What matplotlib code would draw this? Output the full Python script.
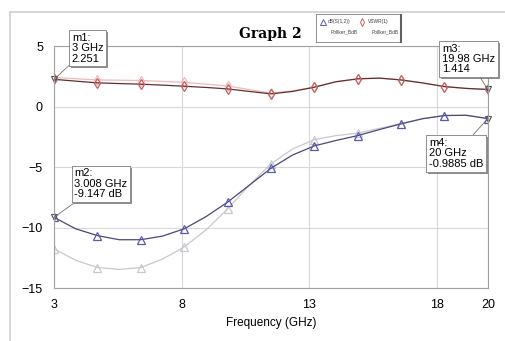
import numpy as np
import matplotlib.pyplot as plt
import matplotlib.patheffects as pe
from matplotlib.lines import Line2D

plt.rcParams['font.family'] = ['Liberation Sans', 'DejaVu Sans']

# frequency samples (GHz) - markers on every other point
freq = [3, 3.85, 4.7, 5.55, 6.4, 7.25, 8.1, 8.95, 9.8, 10.65, 11.5,
        12.35, 13.2, 14.05, 14.9, 15.75, 16.6, 17.45, 18.3, 19.15, 20]

s12_db = [-9.15, -10.1, -10.66, -11.0, -11.0, -10.7, -10.1, -9.1, -7.9, -6.5, -5.1,
          -4.0, -3.25, -2.8, -2.4, -1.9, -1.43, -1.0, -0.74, -0.72, -0.99]
s12_db_ref = [-11.76, -12.7, -13.3, -13.45, -13.3, -12.6, -11.6, -10.2, -8.46, -6.5, -4.74,
              -3.5, -2.73, -2.4, -2.2, -1.8, -1.4, -1.0, -0.74, -0.72, -0.99]

vswr = [2.25, 2.1, 1.96, 1.9, 1.85, 1.77, 1.68, 1.58, 1.46, 1.25, 1.05,
        1.25, 1.6, 2.05, 2.29, 2.35, 2.2, 1.95, 1.65, 1.5, 1.41]
vswr_ref = [2.4, 2.3, 2.2, 2.18, 2.15, 2.08, 2.0, 1.85, 1.7, 1.4, 1.1,
            1.3, 1.6, 2.05, 2.29, 2.35, 2.2, 1.95, 1.65, 1.5, 1.41]

x_ticks = [3, 8, 13, 18, 20]
y_ticks = [5, 0, -5, -10, -15]

fig = plt.figure(figsize=(5.05, 3.41), dpi=100)
ax = fig.add_axes([0.107, 0.155, 0.859, 0.71])

# outer frame of the report window
fig.add_artist(Line2D([10/505, 1], [1 - 12/341, 1 - 12/341], color='#cfcfcf', lw=1.2))
fig.add_artist(Line2D([10/505, 10/505], [0, 1 - 12/341], color='#cfcfcf', lw=1.2))

ax.plot(freq, s12_db_ref, color='#c8c8d0', lw=0.9, marker='^', markevery=2,
        mfc='none', mec='#c8c8d0', ms=5.5, mew=0.9)
ax.plot(freq, vswr_ref, color='#f0b8b8', lw=0.9, marker='d', markevery=2,
        mfc='none', mec='#f0b8b8', ms=5.5, mew=0.9)
ax.plot(freq, s12_db, color='#48487a', lw=0.9, marker='^', markevery=2,
        mfc='none', mec='#5a5ab0', ms=5.5, mew=0.9)
ax.plot(freq, vswr, color='#603030', lw=0.9, marker='d', markevery=2,
        mfc='none', mec='#c86060', ms=5.5, mew=0.9)

ax.set_xlim(3, 20)
ax.set_ylim(-15, 5)
ax.set_xticks(x_ticks)
ax.set_yticks(y_ticks)
ax.tick_params(length=0, labelsize=9, pad=8)
ax.grid(True, color='#d8d8d8', lw=0.8)
for s in ax.spines.values():
    s.set_color('#a0a0a0')
    s.set_linewidth(0.8)
ax.set_xlabel('Frequency (GHz)', fontsize=8.5, labelpad=4)

fig.text(0.535, 0.90, 'Graph 2', family='DejaVu Serif', fontweight='bold',
         fontsize=10, ha='center', va='center')

# legend box
leg = fig.add_axes([316/505, 1 - 42/341, 84/505, 28/341])
leg.set_xticks([])
leg.set_yticks([])
leg.set_xlim(0, 1)
leg.set_ylim(0, 1)
for s in leg.spines.values():
    s.set_color('#808080')
    s.set_linewidth(0.6)
leg.plot([0.08], [0.72], marker='^', mfc='none', mec='#5a5ab0', ms=4, mew=0.7)
leg.plot([0.55], [0.72], marker='d', mfc='none', mec='#c86060', ms=4, mew=0.7)
leg.text(0.14, 0.72, 'dB(S(1,2))', fontsize=3.5, va='center', color='#404040')
leg.text(0.18, 0.35, 'Pollker_BdB', fontsize=3.5, va='center', color='#404040')
leg.text(0.62, 0.72, 'VSWR(1)', fontsize=3.5, va='center', color='#404040')
leg.text(0.66, 0.35, 'Pollker_BdB', fontsize=3.5, va='center', color='#404040')
fig.add_artist(Line2D([401/505, 401/505], [1 - 42/341, 1 - 15/341], color='#606060', lw=1.5))

# markers with label boxes
markers = [
    (3, 2.251, 'm1:\n3 GHz\n2.251', (3.7, 6.1)),
    (3, -9.147, 'm2:\n3.008 GHz\n-9.147 dB', (3.8, -5.1)),
    (20, 1.414, 'm3:\n19.98 GHz\n1.414', (18.2, 5.2)),
    (20, -0.9885, 'm4:\n20 GHz\n-0.9885 dB', (17.7, -2.6)),
]
for mx, my, label, (tx, ty) in markers:
    ax.plot([mx], [my], marker='v', mfc='none', mec='#505050', ms=5, mew=0.8, clip_on=False)
    ann = ax.annotate(label, xy=(mx, my), xytext=(tx, ty), fontsize=8,
                      ha='left', va='top', linespacing=1.05, annotation_clip=False,
                      bbox=dict(boxstyle='square,pad=0.25', fc='white', ec='#909090', lw=0.7),
                      arrowprops=dict(arrowstyle='-', color='#707070', lw=0.6,
                                      shrinkA=0, shrinkB=0))
    ann.get_bbox_patch().set_path_effects([pe.withSimplePatchShadow(offset=(1.5, -1.5),
                                                                    shadow_rgbFace='#707070', alpha=0.8),
                                           pe.Normal()])

fig.savefig('out.png', dpi=100)
